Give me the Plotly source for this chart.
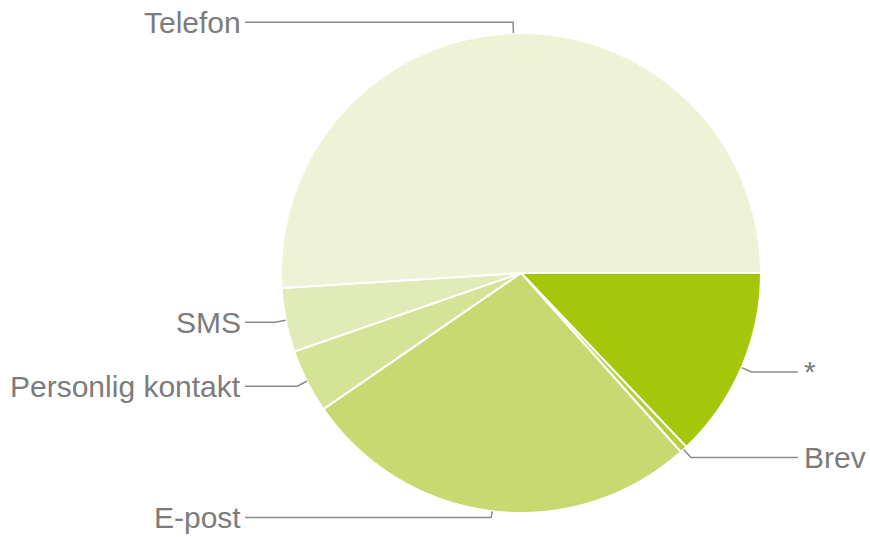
import math
import plotly.graph_objects as go

labels = ["*", "Brev", "E-post", "Personlig kontakt", "SMS", "Telefon"]
values = [12.9, 0.5, 27.0, 4.3, 4.3, 51.0]
colors = ["#a5c70b", "#b6d03c", "#c7d970", "#d5e397", "#e1ebb7", "#eef3d7"]

W, H = 870, 537
CX, CY, R = 521, 273, 240
LEFT_X, RIGHT_X = 243, 798
LABEL_COLOR = "#7c7c7c"
LINE_COLOR = "#8a8a8a"
FONT_SIZE = 30

fig = go.Figure(go.Pie(
    labels=labels, values=values, sort=False, direction="clockwise", rotation=90,
    marker=dict(colors=colors, line=dict(color="white", width=2)),
    textinfo="none", hoverinfo="label+percent", showlegend=False,
    domain=dict(x=[(CX - R) / W, (CX + R) / W], y=[1 - (CY + R) / H, 1 - (CY - R) / H]),
))

def px(x):
    return x / W

def py(y):
    return 1 - y / H

total = sum(values)
start = 0.0
shapes = []
annotations = []
for lab, v in zip(labels, values):
    mid = start + v / 2
    start += v
    ang = math.radians(mid / total * 360)
    ex, ey = CX + R * math.cos(ang), CY + R * math.sin(ang)
    ox, oy = CX + R * 1.045 * math.cos(ang), CY + R * 1.045 * math.sin(ang)
    # keep labels inside the canvas
    oy = min(max(oy, FONT_SIZE * 0.65), H - FONT_SIZE * 0.65)
    right = math.cos(ang) > 0
    tx = RIGHT_X if right else LEFT_X + 2
    path = f"M {px(ex)} {py(ey)} L {px(ox)} {py(oy)} L {px(tx)} {py(oy)}"
    shapes.append(dict(type="path", path=path, xref="paper", yref="paper",
                       line=dict(color=LINE_COLOR, width=1.5)))
    annotations.append(dict(
        text=lab, x=px(RIGHT_X + 4) if right else px(LEFT_X), y=py(oy),
        xref="paper", yref="paper", xanchor="left" if right else "right",
        yanchor="middle", showarrow=False,
        font=dict(family="Liberation Sans, Arial, sans-serif", size=FONT_SIZE, color=LABEL_COLOR),
    ))

fig.update_layout(
    width=W, height=H, margin=dict(l=0, r=0, t=0, b=0),
    paper_bgcolor="white", plot_bgcolor="white",
    shapes=shapes, annotations=annotations,
)
fig.write_html(
    "out.html",
    config={"displayModeBar": False},
    post_script="document.body.style.margin='0';document.body.style.overflow='hidden';",
)
